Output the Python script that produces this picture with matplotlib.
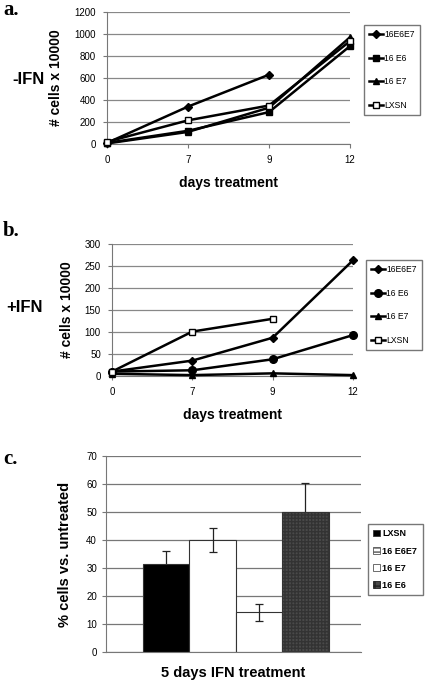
import numpy as np
import matplotlib.pyplot as plt
from matplotlib.patches import Patch

plt.rcParams['font.family'] = ['Liberation Sans', 'DejaVu Sans']

days = ["0", "7", "9", "12"]

# panel a: -IFN
a_labels = ["16E6E7", "16 E6", "16 E7", "LXSN"]
a_e6e7 = [10, 340, 630, np.nan]
a_e6 = [10, 120, 290, 890]
a_e7 = [5, 110, 330, 970]
a_lxsn = [20, 215, 350, 935]

# panel b: +IFN
b_labels = ["16E6E7", "16 E6", "16 E7", "LXSN"]
b_e6e7 = [10, 35, 87, 263]
b_e6 = [10, 13, 38, 93]
b_e7 = [5, 2, 6, 2]
b_lxsn = [10, 101, 130, np.nan]

# panel c: % of untreated after 5 days IFN
c_labels = ["LXSN", "16 E6E7", "16 E7", "16 E6"]
c_values = [31.3, 40, 14.2, 50]
c_errors = [4.7, 4.2, 3.0, 10.3]

W, H = 425, 682
fig = plt.figure(figsize=(W / 100, H / 100), dpi=100)


def fx(px):
    return px / W


def fy(py):
    return 1 - py / H


def line_panel(rect, series, labels, markers, ymax, ystep, leg_xy):
    ax = fig.add_axes(rect)
    x = np.arange(len(days))
    handles = []
    for vals, lab, (m, fc, ms) in zip(series, labels, markers):
        h, = ax.plot(x, vals, color="black", lw=1.8, marker=m, ms=ms,
                     mfc=fc, mec="black", mew=1.0, label=lab, clip_on=False,
                     zorder=3)
        handles.append(h)
    ax.set_xlim(0, 3)
    ax.set_ylim(0, ymax)
    ax.set_xticks(x)
    ax.set_xticklabels(days)
    ax.set_yticks(np.arange(0, ymax + 1, ystep))
    ax.yaxis.grid(True, color="#888888", lw=0.9)
    ax.set_axisbelow(True)
    for s in ("top", "right"):
        ax.spines[s].set_visible(False)
    for s in ("left", "bottom"):
        ax.spines[s].set_color("#777777")
    ax.tick_params(labelsize=7, length=3, color="#777777", pad=5)
    ax.set_xlabel("days treatment", fontsize=10, fontweight="bold", labelpad=8)
    ax.set_ylabel("# cells x 10000", fontsize=10, fontweight="bold", labelpad=8)
    fig.legend(handles=handles, loc="upper left", bbox_to_anchor=leg_xy,
               borderaxespad=0, fontsize=6.2, labelspacing=1.7,
               handlelength=1.6, handletextpad=0.15, borderpad=0.6,
               fancybox=False, edgecolor="#777777", framealpha=1)
    return ax


ax_a = line_panel([fx(107), fy(144), fx(350 - 107), (144 - 12) / H],
                  [a_e6e7, a_e6, a_e7, a_lxsn], a_labels,
                  [("D", "black", 4.5), ("s", "black", 4.5),
                   ("^", "black", 5), ("s", "white", 4.5)],
                  1200, 200, (fx(364), fy(25)))
ax_b = line_panel([fx(112), fy(376), fx(353 - 112), (376 - 244) / H],
                  [b_e6e7, b_e6, b_e7, b_lxsn], b_labels,
                  [("D", "black", 4.5), ("o", "black", 5.5),
                   ("^", "black", 5), ("s", "white", 4.5)],
                  300, 50, (fx(366), fy(260)))

# panel c
ax_c = fig.add_axes([fx(106), fy(652), fx(361 - 106), (652 - 456) / H])
xc = np.arange(len(c_values))
faces = ["black", "white", "white", "#4a4a4a"]
hatches = [None, None, None, "+++++"]
for i, (v, e) in enumerate(zip(c_values, c_errors)):
    ax_c.bar(xc[i], v, width=1.0, color=faces[i], edgecolor="#333333",
             lw=0.8, hatch=hatches[i], zorder=2)
    ez = 3 if faces[i] == "white" else 1.5
    ax_c.errorbar(xc[i], v, yerr=e, color="#222222", lw=0.9, capsize=3,
                  capthick=0.9, zorder=ez)
ax_c.set_xlim(-1.3, 4.2)
ax_c.set_ylim(0, 70)
ax_c.set_yticks(np.arange(0, 71, 10))
ax_c.set_xticks([])
ax_c.yaxis.grid(True, color="#777777", lw=0.9, zorder=0)
ax_c.set_axisbelow(True)
for s in ("top", "right"):
    ax_c.spines[s].set_visible(False)
for s in ("left", "bottom"):
    ax_c.spines[s].set_color("#777777")
ax_c.tick_params(labelsize=7, length=3, color="#777777")
ax_c.set_xlabel("5 days IFN treatment", fontsize=10.5, fontweight="bold",
                labelpad=10)
ax_c.set_ylabel("% cells vs. untreated", fontsize=10.5, fontweight="bold",
                labelpad=10)
leg_handles = [Patch(facecolor="black", edgecolor="#333333", lw=0.6),
               Patch(facecolor="white", edgecolor="#555555", lw=0.6,
                     hatch="----"),
               Patch(facecolor="white", edgecolor="#555555", lw=0.6),
               Patch(facecolor="#4a4a4a", edgecolor="#222222", lw=0.6,
                     hatch="+++")]
fig.legend(handles=leg_handles, labels=c_labels,
           loc="upper left", bbox_to_anchor=(fx(368), fy(524)),
           borderaxespad=0, labelspacing=0.9,
           handlelength=0.7, handleheight=0.7, handletextpad=0.3,
           borderpad=0.6, fancybox=False, edgecolor="#777777",
           framealpha=1, prop={"weight": "bold", "size": 6.5})

# panel letters and conditions
for txt, ypx in (("a.", 10), ("b.", 231), ("c.", 459)):
    fig.text(fx(3), fy(ypx), txt, fontsize=15, fontweight="bold",
             family="Liberation Serif", va="center", ha="left")
fig.text(fx(12), fy(80), "-IFN", fontsize=12, fontweight="bold", va="center")
fig.text(fx(6), fy(307), "+IFN", fontsize=12, fontweight="bold", va="center")

fig.savefig("out.png", dpi=100)
